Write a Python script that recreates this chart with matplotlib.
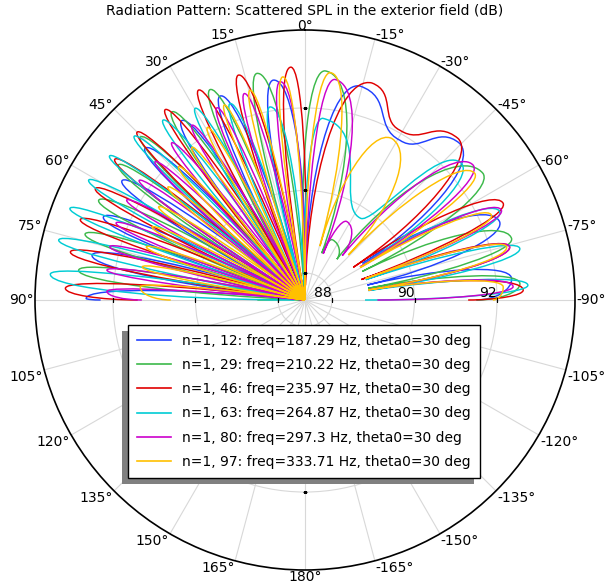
import numpy as np
import matplotlib
matplotlib.use("Agg")
import matplotlib.pyplot as plt
from matplotlib.path import Path
from matplotlib.patches import PathPatch, Rectangle
from matplotlib.lines import Line2D

# ── radial range (dB) and ticks ───────────────────────────────────────────────
RMIN, RMAX = 87.345, 93.89
R_TICKS = [88, 90, 92]

TITLE = "Radiation Pattern: Scattered SPL in the exterior field (dB)"

# ── lobe data: angle (deg, + = left), level (dB) ─────────────────────────────
# kind: n = null (cusp), p = smooth extremum, e = end of sweep
blue_theta = [-90, -84.0, -76.5, -68.1, -57.5, -44.7, -30.7, -14.4, -1.0, 8.2, 15.5, 22.6, 28.5,
              34.5, 40.5, 46.5, 51.7, 56.9, 62.2, 67.6, 72.8, 78.1, 84.0, 89.6, 90]
blue_db = [91.5, 92.38, 88.9, 92.43, 89.0, 92.68, 91.85, 92.70, 87.9, 92.73, 87.3, 92.70, 87.3,
           92.62, 87.3, 92.69, 87.3, 92.64, 87.3, 92.63, 87.3, 92.62, 87.3, 92.65, 92.3]
blue_kind = "epnpnpppnpnpnpnpnpnpnpnpe"

green_theta = [-90, -85.6, -79.5, -73.4, -63.5, -54.6, -38.0, -24.5, -19.7, -5.0, 3.5, 12.0, 18.2,
               24.3, 29.8, 35.3, 40.3, 45.3, 49.7, 54.1, 59.1, 64.2, 68.8, 73.3, 77.9, 82.5, 87.5, 90]
green_db = [91.5, 92.57, 88.9, 92.57, 88.9, 92.64, 88.6, 88.95, 88.55, 92.92, 87.3, 92.96, 87.3,
            92.94, 87.3, 92.93, 87.3, 92.96, 87.3, 92.93, 87.3, 92.90, 87.3, 92.91, 87.3, 92.88, 87.3, 88.5]
green_kind = "epnpnpnpnpnpnpnpnpnpnpnpnpne"

red_theta = [-90, -87.4, -81.0, -75.4, -70.0, -64.0, -55.9, -43.5, -29.2, -17.1, -1.5, 3.5, 10.0,
             16.5, 21.7, 26.9, 31.6, 36.3, 40.6, 45.0, 49.2, 53.5, 57.7, 62.0, 66.1, 70.3, 74.3,
             78.4, 82.8, 87.2, 90]
red_db = [91.3, 92.64, 88.9, 92.47, 88.8, 92.69, 88.76, 92.74, 92.06, 92.85, 87.7, 93.00, 87.3,
          93.03, 87.3, 93.05, 87.3, 93.07, 87.3, 93.10, 87.3, 93.08, 87.3, 93.10, 87.3, 93.13, 87.3,
          93.15, 87.3, 93.16, 91.4]
red_kind = "epnpnpnpppnpnpnpnpnpnpnpnpnpnpe"

cyan_theta = [-90, -86.2, -81.5, -76.5, -71.5, -65.6, -58.5, -48.9, -33.9, -5.6, 2.0, 10.3, 15.6,
              20.9, 25.4, 29.8, 34.0, 38.3, 42.2, 46.2, 49.9, 53.6, 57.3, 61.0, 64.9, 68.7, 72.5,
              76.3, 80.3, 84.2, 90]
cyan_db = [88.8, 92.76, 88.9, 92.70, 88.9, 92.53, 89.0, 92.38, 89.74, 91.77, 87.3, 92.10, 87.3,
           92.44, 87.3, 92.70, 87.3, 92.90, 87.3, 93.08, 87.3, 93.23, 87.3, 93.34, 87.3, 93.46, 87.3,
           93.49, 87.3, 93.55, 87.6]
cyan_kind = "epnpnpnpppnpnpnpnpnpnpnpnpnpnpe"

magenta_theta = [-90, -86.3, -81.0, -75.4, -70.5, -65.4, -59.0, -51.3, -40.0, -28.0, -21.5, -7.7,
                 -0.5, 6.5, 11.5, 16.4, 20.5, 24.6, 28.8, 32.9, 36.6, 40.3, 43.8, 47.3, 50.8, 54.2,
                 57.5, 60.7, 64.3, 67.8, 71.3, 74.7, 78.1, 81.4, 84.5, 87.5, 90]
magenta_db = [89.1, 92.40, 88.9, 92.47, 88.9, 92.58, 88.9, 92.57, 88.75, 89.5, 88.55, 92.74,
              87.3, 92.67, 87.3, 92.56, 87.3, 92.47, 87.3, 92.39, 87.3, 92.34, 87.3, 92.29, 87.3, 92.30,
              87.3, 92.30, 87.3, 92.29, 87.3, 92.25, 87.3, 92.20, 87.3, 92.15, 91.3]
magenta_kind = "epnpnpnpnpnpnpnpnpnpnpnpnpnpnpnpnpnpe"

yellow_theta = [-90, -86.2, -81.0, -75.2, -70.5, -65.5, -59.5, -53.3, -43.9, -28.2, -15.5, -6.4,
                0.5, 5.7, 10.2, 14.7, 18.6, 22.5, 26.0, 29.5, 33.0, 36.5, 40.0, 43.5, 47.0, 50.5,
                54.0, 57.5, 61.0, 64.5, 68.0, 71.5, 75.0, 78.5, 82.0, 85.5, 90]
yellow_db = [91.9, 92.16, 88.9, 92.40, 88.9, 92.31, 88.9, 92.48, 88.86, 91.79, 88.7, 92.89,
             87.3, 92.78, 87.3, 92.60, 87.3, 92.46, 87.3, 92.15, 87.3, 91.95, 87.3, 91.80, 87.3, 91.65,
             87.3, 91.55, 87.3, 91.45, 87.3, 91.40, 87.3, 91.37, 87.3, 91.35, 90.6]
yellow_kind = "epnpnpnpnpnpnpnpnpnpnpnpnpnpnpnpnpnpe"

labels = [
    "n=1, 12: freq=187.29 Hz, theta0=30 deg",
    "n=1, 29: freq=210.22 Hz, theta0=30 deg",
    "n=1, 46: freq=235.97 Hz, theta0=30 deg",
    "n=1, 63: freq=264.87 Hz, theta0=30 deg",
    "n=1, 80: freq=297.3 Hz, theta0=30 deg",
    "n=1, 97: freq=333.71 Hz, theta0=30 deg",
]
colors = ["#2040ff", "#3cb94a", "#e00000", "#00ccd4", "#cc00cc", "#ffc000"]
series = [
    (blue_theta, blue_db, blue_kind),
    (green_theta, green_db, green_kind),
    (red_theta, red_db, red_kind),
    (cyan_theta, cyan_db, cyan_kind),
    (magenta_theta, magenta_db, magenta_kind),
    (yellow_theta, yellow_db, yellow_kind),
]


def lobe_path(theta_deg, db, kind, k=0.55, m=0.5):
    """Smooth path through the read points: cusps leave radially,
    extrema leave tangentially (cubic Bezier between neighbours)."""
    th = np.radians(theta_deg)
    r = np.maximum(np.asarray(db, float), RMIN)
    verts = [(th[0], r[0])]
    codes = [Path.MOVETO]
    for i in range(len(th) - 1):
        ta, ra, tb, rb = th[i], r[i], th[i + 1], r[i + 1]
        c1 = (ta + k * (tb - ta), ra) if kind[i] == "p" else (ta, ra + m * (rb - ra))
        c2 = (tb - k * (tb - ta), rb) if kind[i + 1] == "p" else (tb, rb + m * (ra - rb))
        verts += [c1, c2, (tb, rb)]
        codes += [Path.CURVE4] * 3
    return Path(verts, codes)


W, H = 605, 584
fig = plt.figure(figsize=(W / 100, H / 100), dpi=100)
ax = fig.add_axes([35 / W, 14 / H, 540 / W, 540 / H], projection="polar")
ax.set_theta_zero_location("N")
ax.set_theta_direction(1)
ax.set_rlim(RMIN, RMAX)

for (th, db, kd), c in zip(series, colors):
    ax.add_patch(PathPatch(lobe_path(th, db, kd), facecolor="none", edgecolor=c, lw=1.05, zorder=3))

# grid
angles = np.arange(0, 360, 15)
ax.set_thetagrids(angles, [""] * len(angles))
ax.set_yticks(R_TICKS)
ax.set_yticklabels([])
ax.tick_params(axis="both", length=0)
ax.grid(True, color="#d8d8d8", lw=0.8)
ax.spines["polar"].set_color("black")
ax.spines["polar"].set_linewidth(1.2)

# angle labels hugging the outer circle
for a in angles:
    t = np.radians(a)
    sx, sy = -np.sin(t), np.cos(t)
    ha = "center" if abs(sx) < 1e-6 else ("left" if sx > 0 else "right")
    va = "center" if abs(sy) < 1e-6 else ("baseline" if sy > 0 else "top")
    lab = f"{a if a <= 180 else a - 360}°"
    ax.annotate(lab, xy=(t, RMAX), xytext=(1.2 * sx, 0.0), textcoords="offset points",
                ha=ha, va=va, fontsize=10, annotation_clip=False)

# little radial tick marks on the four main axes
for a, mk in [(0, "_"), (180, "_"), (90, "|"), (-90, "|")]:
    ax.plot(np.radians([a] * len(R_TICKS)), R_TICKS, ls="none", marker=mk, ms=3,
            mew=0.9, color="black", zorder=4)
for rv in R_TICKS:
    ax.text(np.radians(-90), rv, f"{rv}", ha="right", va="bottom", fontsize=10, zorder=4)

fig.text(305 / W, 1 - 10 / H, TITLE, ha="center", va="center", fontsize=10)

# legend with a grey shadow offset to the lower left
handles = [Line2D([], [], color=c, lw=1.2) for c in colors]
leg = fig.legend(handles, labels, loc="upper left", bbox_to_anchor=(128 / W, 1 - 325 / H),
                 fontsize=10, frameon=True, fancybox=False, edgecolor="black", framealpha=1,
                 borderaxespad=0, handlelength=2.5, labelspacing=0.74, borderpad=0.62)
leg.get_frame().set_linewidth(1.0)
fig.canvas.draw()
bb = leg.get_window_extent().transformed(fig.transFigure.inverted())
fig.patches.append(Rectangle((bb.x0 - 6 / W, bb.y0 - 6 / H), bb.width, bb.height,
                             transform=fig.transFigure, facecolor="#808080",
                             edgecolor="none", zorder=4))

fig.savefig("out.png", dpi=100)
